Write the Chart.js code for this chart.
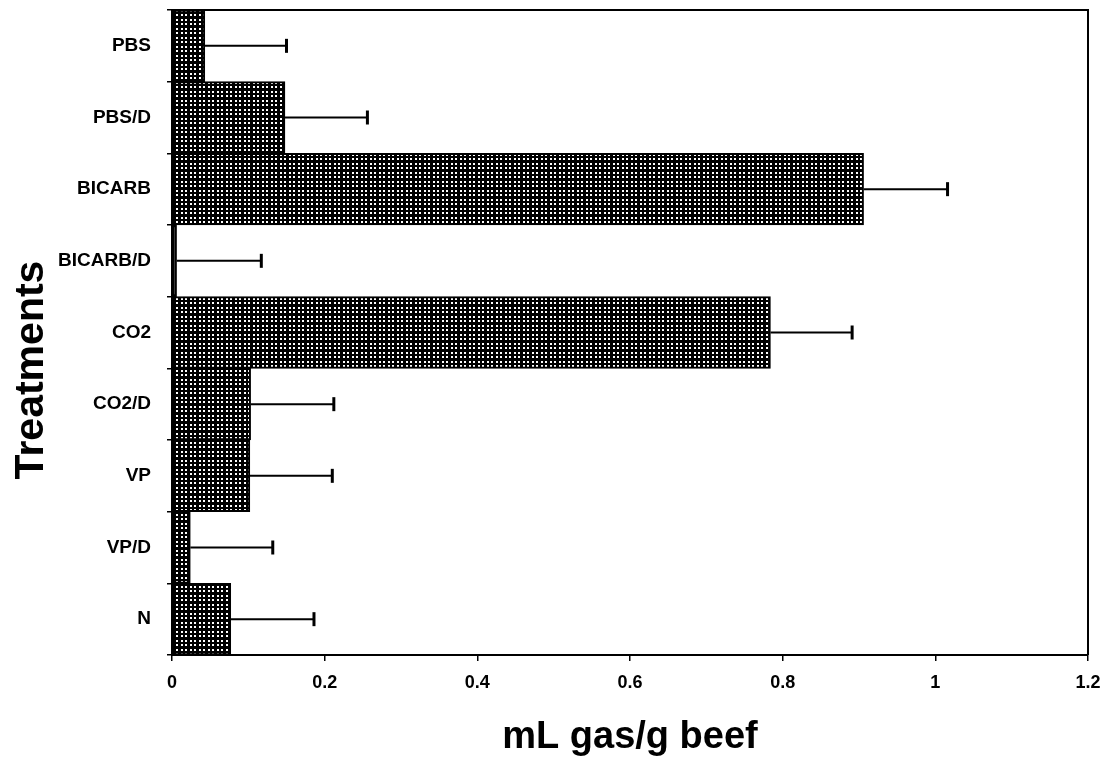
<!DOCTYPE html>
<html>
<head>
<meta charset="utf-8">
<title>mL gas/g beef by treatment</title>
<script src="https://cdn.jsdelivr.net/npm/chart.js@4/dist/chart.umd.min.js"></script>
<style>
  html, body { margin: 0; padding: 0; background: #fff; }
  #wrap { position: relative; width: 1109px; height: 763px; }
</style>
</head>
<body>
<div id="wrap"><canvas id="chart"></canvas></div>
<script>
// treatments, top to bottom
const categories = ["PBS", "PBS/D", "BICARB", "BICARB/D", "CO2", "CO2/D", "VP", "VP/D", "N"];
// mean gas volume (mL gas / g beef)
const gasValues = [0.043, 0.148, 0.906, 0.006, 0.784, 0.103, 0.102, 0.024, 0.077];
// error bar length (one-sided)
const gasErrors = [0.107, 0.108, 0.110, 0.111, 0.107, 0.109, 0.108, 0.108, 0.109];

const canvas = document.getElementById("chart");
const ctx = canvas.getContext("2d");

// black fill with a grid of small white dots (about 4.5px apart)
function makeStipple() {
  const tile = document.createElement("canvas");
  tile.width = 9;
  tile.height = 9;
  const g = tile.getContext("2d");
  g.fillStyle = "#000";
  g.fillRect(0, 0, 9, 9);
  g.fillStyle = "#fff";
  [1, 5].forEach(px => {
    [1, 5].forEach(py => g.fillRect(px, py, 2, 2));
  });
  return ctx.createPattern(tile, "repeat");
}

// error bars to the right of each bar
const errorBars = {
  id: "errorBars",
  afterDatasetsDraw(chart) {
    const x = chart.scales.x, y = chart.scales.y;
    const c = chart.ctx;
    c.save();
    c.strokeStyle = "#000";
    gasValues.forEach((v, i) => {
      const yy = y.getPixelForValue(i);
      const x0 = x.getPixelForValue(v);
      const x1 = x.getPixelForValue(v + gasErrors[i]);
      c.lineWidth = 2;
      c.beginPath();
      c.moveTo(x0, yy);
      c.lineTo(x1, yy);
      c.stroke();
      c.lineWidth = 3;
      c.beginPath();
      c.moveTo(x1, yy - 7);
      c.lineTo(x1, yy + 7);
      c.stroke();
    });
    c.restore();
  }
};

// top and right edges of the plot box, plus the rotated y title
const frame = {
  id: "frame",
  afterDraw(chart) {
    const a = chart.chartArea;
    const c = chart.ctx;
    c.save();
    c.strokeStyle = "#000";
    c.lineWidth = 2;
    c.beginPath();
    c.moveTo(a.left, a.top);
    c.lineTo(a.right, a.top);
    c.lineTo(a.right, a.bottom);
    c.stroke();

    c.translate(32, 370);
    c.rotate(-Math.PI / 2);
    c.fillStyle = "#000";
    c.font = "bold 41px 'Liberation Sans', Arial, sans-serif";
    c.textAlign = "center";
    c.textBaseline = "middle";
    c.fillText("Treatments", 0, 0);
    c.restore();
  }
};

new Chart(ctx, {
  type: "bar",
  data: {
    labels: categories,
    datasets: [{
      data: gasValues,
      backgroundColor: makeStipple(),
      borderColor: "#000",
      borderWidth: 2,
      borderSkipped: false,
      categoryPercentage: 1,
      barPercentage: 1
    }]
  },
  plugins: [errorBars, frame],
  options: {
    indexAxis: "y",
    responsive: true,
    maintainAspectRatio: false,
    animation: false,
    layout: { padding: { top: 10, right: 21, left: 0, bottom: 0 } },
    plugins: {
      legend: { display: false },
      tooltip: { enabled: false }
    },
    scales: {
      x: {
        min: 0,
        max: 1.2,
        ticks: {
          stepSize: 0.2,
          color: "#000",
          padding: 11,
          callback: v => String(Number(v.toFixed(1))),
          font: { family: "'Liberation Sans', Arial, sans-serif", size: 18, weight: "bold" }
        },
        grid: { drawOnChartArea: false, color: "#000", tickLength: 6, lineWidth: 1.5 },
        border: { display: true, color: "#000", width: 2 },
        title: {
          display: true,
          text: "mL gas/g beef",
          color: "#000",
          padding: { top: 4, bottom: 3 },
          font: { family: "'Liberation Sans', Arial, sans-serif", size: 38, weight: "bold" }
        },
        afterFit(scale) {
          scale.height = 108;
          scale.paddingLeft = 0;
          scale.paddingRight = 0;
        }
      },
      y: {
        ticks: {
          color: "#000",
          padding: 16,
          font: { family: "'Liberation Sans', Arial, sans-serif", size: 19, weight: "bold" }
        },
        grid: { drawOnChartArea: false, color: "#000", tickLength: 5, lineWidth: 1.5 },
        border: { display: true, color: "#000", width: 2 },
        afterFit(scale) {
          scale.width = 172;
          scale.paddingTop = 0;
          scale.paddingBottom = 0;
        }
      }
    }
  }
});
</script>
</body>
</html>
